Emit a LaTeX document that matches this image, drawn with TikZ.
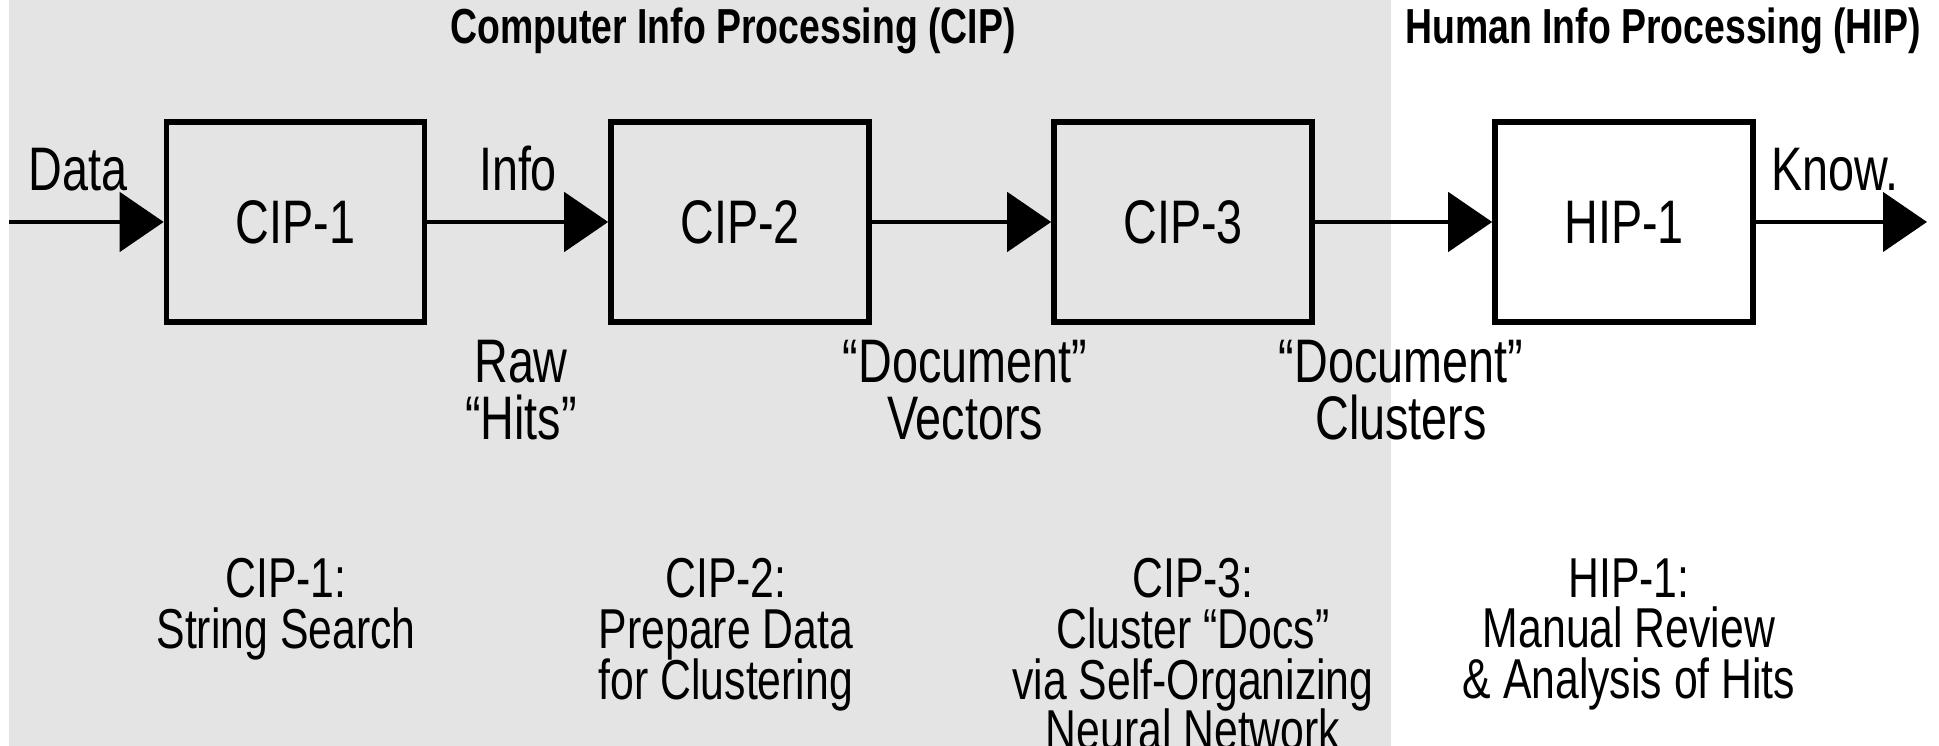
\documentclass[tikz,border=0pt]{standalone}
\usepackage{fontspec}
\setmainfont{Liberation Sans}[FakeStretch=0.76]
\usepackage{tikz}
\usetikzlibrary{arrows.meta,positioning,calc}
\definecolor{cipgray}{HTML}{E4E4E4}

\begin{document}
\begin{tikzpicture}[
  box/.style={rectangle, draw, line width=1.6pt, minimum width=2.58cm, minimum height=2cm, font=\fontsize{17.5}{16}\selectfont},
  arrow/.style={-{Triangle[length=0.44cm,width=0.59cm]}, line width=1.4pt},
  lbl/.style={inner sep=0pt, align=center, font=\fontsize{17.5}{16}\selectfont},
  desc/.style={inner sep=0pt, anchor=north, align=center, font={\fontsize{16}{14.4}\selectfont\lineskiplimit=-20pt\relax}},
  title/.style={inner sep=0pt, anchor=base, font=\fontsize{14}{16}\selectfont\bfseries}
]
  \useasboundingbox (0,0) rectangle (19.39,7.46);
  \fill[cipgray] (0.09,0) rectangle (13.91,7.46);

  \node[title] (cipt) at (7.33,7.02) {Computer Info Processing (CIP)};
  \node[title] (hipt) at (16.63,7.02) {Human Info Processing (HIP)};

  \node[box] (cip1) at (2.955,5.24) {CIP-1};
  \node[box] (cip2) at (7.40,5.24) {CIP-2};
  \node[box] (cip3) at (11.83,5.24) {CIP-3};
  \node[box] (hip1) at (16.24,5.24) {HIP-1};
  \coordinate (in) at (0.09,5.24);
  \coordinate (out) at (19.27,5.24);

  \draw[arrow] (in) -- (cip1);
  \draw[arrow] (cip1) -- (cip2);
  \draw[arrow] (cip2) -- (cip3);
  \draw[arrow] (cip3) -- (hip1);
  \draw[arrow] (hip1) -- (out);

  \node[lbl, anchor=base] (data) at (0.78,5.55) {Data};
  \node[lbl, anchor=base] (info) at (5.18,5.55) {Info};
  \node[lbl, anchor=base] (know) at (18.35,5.55) {Know.};

  \node[lbl, anchor=north] (hits) at (5.21,4.06) {Raw\\“Hits”};
  \node[lbl, anchor=north] (vecs) at (9.65,4.06) {“Document”\\Vectors};
  \node[lbl, anchor=north] (clus) at (14.01,4.06) {“Document”\\Clusters};

  \node[desc] (d1) at (2.86,1.88) {CIP-1:\\String Search};
  \node[desc] (d2) at (7.26,1.88) {CIP-2:\\Prepare Data\\for Clustering};
  \node[desc] (d3) at (11.93,1.88) {CIP-3:\\Cluster “Docs”\\via Self-Organizing\\Neural Network};
  \node[desc] (d4) at (16.29,1.88) {HIP-1:\\Manual Review\\\& Analysis of Hits};
\end{tikzpicture}
\end{document}
